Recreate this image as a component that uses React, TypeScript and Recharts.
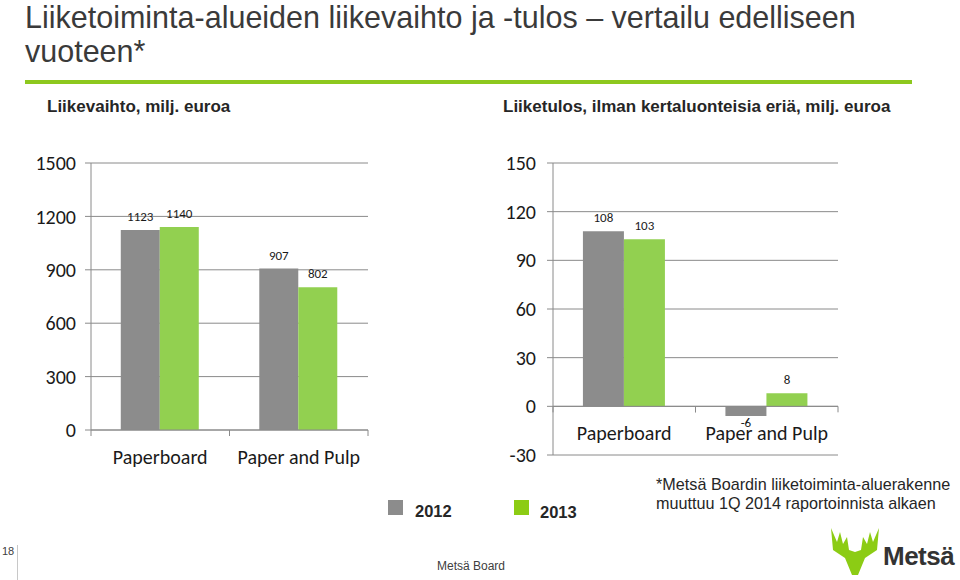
import { BarChart, Bar, XAxis, YAxis, CartesianGrid, ReferenceLine, LabelList } from "recharts";

const categories = ["Paperboard", "Paper and Pulp"];
const sales2012 = [1123, 907];
const sales2013 = [1140, 802];
const salesTicks = [0, 300, 600, 900, 1200, 1500];
const ebit2012 = [108, -6];
const ebit2013 = [103, 8];
const ebitTicks = [-30, 0, 30, 60, 90, 120, 150];
const years = ["2012", "2013"];

const GRAY = "#8c8c8c";
const GREEN = "#92d050";
const AXIS = "#8a8a8a";
const CHART_FONT = "Carlito, Lato, sans-serif";
const SLIDE_FONT = "'Liberation Sans', Arial, sans-serif";

const salesData = categories.map((name, i) => ({ name, y2012: sales2012[i], y2013: sales2013[i] }));
const ebitData = categories.map((name, i) => ({ name, y2012: ebit2012[i], y2013: ebit2013[i] }));

// tick: boundary marks on either side of the band + category name
const makeTick = (band: number, lift: number, labelDy: number) => (props: any) => {
  const { x, y, payload } = props;
  const ay = y - lift;
  return (
    <g>
      <line x1={x - band / 2} x2={x - band / 2} y1={ay} y2={ay + 6} stroke={AXIS} />
      <line x1={x + band / 2} x2={x + band / 2} y1={ay} y2={ay + 6} stroke={AXIS} />
      <text x={x} y={ay + labelDy} textAnchor="middle" fontSize={20} fontFamily={CHART_FONT} fill="#1a1a1a">
        {payload.value}
      </text>
    </g>
  );
};

const valueLabel = (props: any) => {
  const { x, y, width, height, value } = props;
  const top = Math.min(y, y + height);
  const bottom = Math.max(y, y + height);
  const ty = value >= 0 ? top - 9 : bottom + 11;
  return (
    <text x={x + width / 2} y={ty} textAnchor="middle" fontSize={13} fontFamily={CHART_FONT} fill="#1a1a1a">
      {value}
    </text>
  );
};

const yTick = { fontSize: 20, fontFamily: CHART_FONT, fill: "#1a1a1a" };

const SalesChart = () => (
  <BarChart width={400} height={340} data={salesData} margin={{ top: 23, right: 32, left: 31, bottom: 0 }} barCategoryGap="21.5%" barGap={0}>
    <CartesianGrid vertical={false} stroke={AXIS} />
    <XAxis dataKey="name" height={50} axisLine={{ stroke: AXIS }} tickLine={false} tickSize={0} tickMargin={0} tick={makeTick(138.5, 0, 34)} interval={0} />
    <YAxis width={60} domain={[0, 1500]} ticks={salesTicks} axisLine={{ stroke: AXIS }} tickLine={{ stroke: AXIS }} tickSize={6} tickMargin={9} tick={yTick} />
    <Bar dataKey="y2012" fill={GRAY} isAnimationActive={false}>
      <LabelList dataKey="y2012" content={valueLabel} />
    </Bar>
    <Bar dataKey="y2013" fill={GREEN} isAnimationActive={false}>
      <LabelList dataKey="y2013" content={valueLabel} />
    </Bar>
  </BarChart>
);

const EBIT_PLOT_H = 292;
const ebitZeroLift = (EBIT_PLOT_H * (0 - ebitTicks[0])) / (ebitTicks[ebitTicks.length - 1] - ebitTicks[0]);

const EbitChart = () => (
  <BarChart width={370} height={340} data={ebitData} margin={{ top: 23, right: 12, left: 23, bottom: 5 }} barCategoryGap="21%" barGap={0}>
    <CartesianGrid vertical={false} stroke={AXIS} />
    <XAxis dataKey="name" height={20} axisLine={false} tickLine={false} tickSize={0} tickMargin={0} tick={makeTick(142.5, ebitZeroLift, 34)} interval={0} />
    <YAxis width={50} domain={[-30, 150]} ticks={ebitTicks} axisLine={{ stroke: AXIS }} tickLine={{ stroke: AXIS }} tickSize={6} tickMargin={11} tick={yTick} />
    <ReferenceLine y={0} stroke={AXIS} />
    <Bar dataKey="y2012" fill={GRAY} isAnimationActive={false}>
      <LabelList dataKey="y2012" content={valueLabel} />
    </Bar>
    <Bar dataKey="y2013" fill={GREEN} isAnimationActive={false}>
      <LabelList dataKey="y2013" content={valueLabel} />
    </Bar>
  </BarChart>
);

const abs = (left: number, top: number, extra: any = {}) => ({ position: "absolute" as const, left, top, ...extra });

export default function App() {
  return (
    <div style={{ position: "absolute", left: 0, top: 0, width: 960, height: 580, background: "#fff", overflow: "hidden", fontFamily: SLIDE_FONT }}>
      <div style={abs(25, 0, { fontSize: 30.5, lineHeight: "34px", color: "#3a3a3a", width: 930, whiteSpace: "nowrap" })}>
        Liiketoiminta-alueiden liikevaihto ja -tulos – vertailu edelliseen
        <br />
        vuoteen*
      </div>
      <div style={abs(25, 80, { width: 887, height: 4, background: "#8dc81e" })} />
      <div style={abs(47, 97, { fontSize: 17, fontWeight: "bold", color: "#262626" })}>Liikevaihto, milj. euroa</div>
      <div style={abs(503, 97, { fontSize: 17, fontWeight: "bold", color: "#262626" })}>
        Liiketulos, ilman kertaluonteisia eriä, milj. euroa
      </div>

      <div style={abs(0, 140)}>
        <SalesChart />
      </div>
      <div style={abs(480, 140)}>
        <EbitChart />
      </div>

      {/* legend */}
      <div style={abs(388, 500, { width: 15, height: 15, background: GRAY })} />
      <div style={abs(415, 502, { fontSize: 16.5, fontWeight: "bold", color: "#262626" })}>{years[0]}</div>
      <div style={abs(514, 500, { width: 15, height: 15, background: "#8ccc14" })} />
      <div style={abs(540, 503, { fontSize: 16.5, fontWeight: "bold", color: "#262626" })}>{years[1]}</div>

      <div style={abs(656, 475, { fontSize: 16.2, lineHeight: "19px", color: "#262626", whiteSpace: "nowrap" })}>
        *Metsä Boardin liiketoiminta-aluerakenne
        <br />
        muuttuu 1Q 2014 raportoinnista alkaen
      </div>

      <div style={abs(437, 559, { fontSize: 12, color: "#404040" })}>Metsä Board</div>
      <div style={abs(2, 545, { fontSize: 11, color: "#404040" })}>18</div>
      <div style={abs(17, 545, { width: 1, height: 35, background: "#c8c8c8" })} />

      {/* logo */}
      <svg style={abs(831, 528)} width={48} height={48} viewBox="0 0 48 48">
        <polygon
          fill="#8ccc14"
          points="0,0 6,14 9,4 12,16 16,9 18,22 24,24 30,22 32,9 36,16 39,4 42,14 48,0 46,22 34,30 27,47 21,47 14,30 2,22"
        />
      </svg>
      <div style={abs(883, 541, { fontSize: 26, fontWeight: "bold", color: "#333", letterSpacing: -0.5 })}>Metsä</div>
    </div>
  );
}
